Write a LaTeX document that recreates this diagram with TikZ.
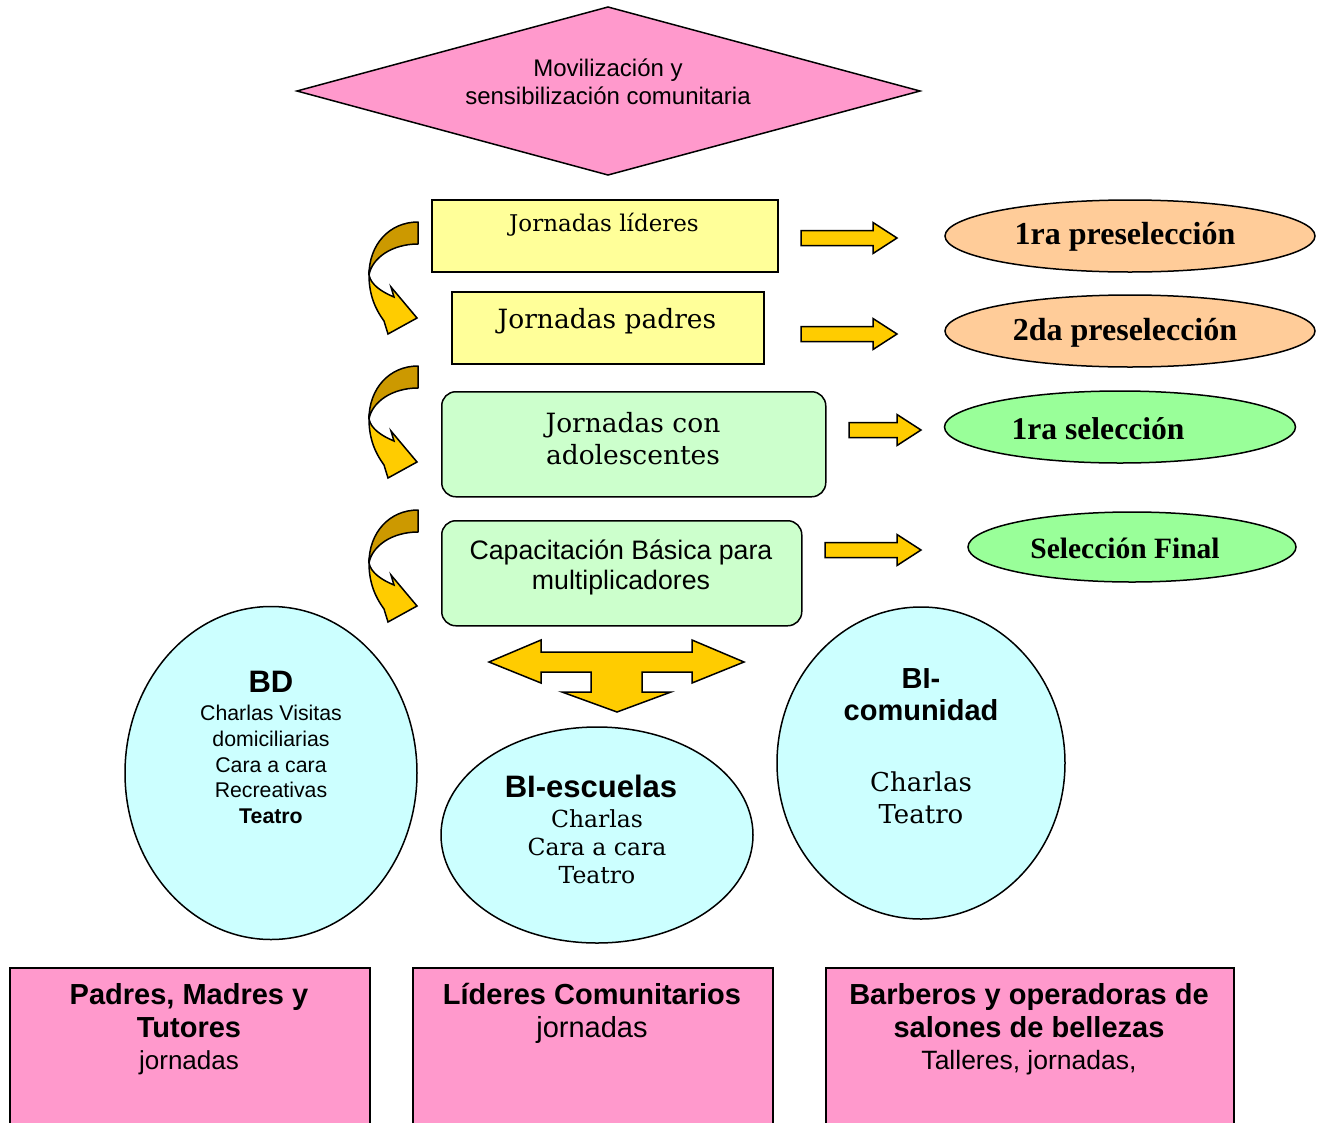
\documentclass[tikz,border=0pt]{standalone}
\usepackage{fontspec}
\setmainfont{Liberation Sans}
\newfontfamily\bookfont{DejaVu Serif}
\newfontfamily\timesfont{Liberation Serif}
\usetikzlibrary{shapes.geometric}

\definecolor{pinkfill}{HTML}{FF99CC}
\definecolor{yellowfill}{HTML}{FFFF99}
\definecolor{mintfill}{HTML}{CCFFCC}
\definecolor{peachfill}{HTML}{FFCC99}
\definecolor{greenfill}{HTML}{99FF99}
\definecolor{cyanfill}{HTML}{CCFFFF}
\definecolor{goldfill}{HTML}{FFCC00}
\definecolor{darkgold}{HTML}{CC9900}

\tikzset{
  outline/.style={draw=black, line width=1.5pt},
  blockarrow/.style={outline, fill=goldfill, line join=miter},
  txt/.style={inner sep=0pt, align=center, text=black},
  sanstxt/.style={txt, font=\fontsize{#1}{#1}\selectfont},
  serift/.style={txt, font=\bookfont\fontsize{#1}{#1}\selectfont},
  timest/.style={txt, font=\timesfont\bfseries\fontsize{#1}{#1}\selectfont},
  % curved block arrow, dark back face and light front face with head
  curvarrow/.pic={
    \path[outline, fill=darkgold, line join=round]
      (418,222) .. controls (389,222) and (369,245) .. (369,275)
      .. controls (372,258) and (392,244) .. (418,244) -- cycle;
    \path[outline, fill=goldfill, line join=miter]
      (369,275) .. controls (369,296) and (376,310) .. (384,321)
      -- (388,334) -- (417,318) -- (391,287) -- (394,297)
      .. controls (382,292) and (371,285) .. (369,275) -- cycle;
  }
}

% straight block arrow: start x, tip x, axis y
\newcommand\rightblock[3]{%
  \path[blockarrow] (#1,#3-7.5) -- (#2-24,#3-7.5) -- (#2-24,#3-15.5) -- (#2,#3)
    -- (#2-24,#3+15.5) -- (#2-24,#3+7.5) -- (#1,#3+7.5) -- cycle;}

\begin{document}
\begin{tikzpicture}[x=1pt, y=-1pt]
\useasboundingbox (0,0) rectangle (1325,1122);

% top diamond
\path[outline, fill=pinkfill, line join=miter]
  (297,91) -- (608,7) -- (920,91) -- (608,175) -- cycle;
\node[sanstxt=24, font=\fontsize{24}{28}\selectfont] (movil) at (608,82)
  {Movilización y\\sensibilización comunitaria};

% step boxes
\node[outline, line width=2pt, fill=yellowfill, minimum width=346pt, minimum height=72pt, anchor=north west] (lideres) at (431,199) {};
\node[serift=23] (lideresT) at (604,225) {Jornadas líderes};

\node[outline, line width=2pt, fill=yellowfill, minimum width=312pt, minimum height=72pt, anchor=north west] (padres) at (451,291) {};
\node[serift=26.5] (padresT) at (607,321) {Jornadas padres};

\node[outline, fill=mintfill, rounded corners=14pt, minimum width=384pt, minimum height=105pt, anchor=north west] (adol) at (441,391) {};
\node[serift=26.5, font=\bookfont\fontsize{26.5}{32}\selectfont] (adolT) at (633,439) {Jornadas con\\adolescentes};

\node[outline, fill=mintfill, rounded corners=14pt, minimum width=360pt, minimum height=105pt, anchor=north west] (capac) at (441,520) {};
\node[sanstxt=26.7, font=\fontsize{26.7}{30}\selectfont] (capacT) at (621,567) {Capacitación Básica para\\multiplicadores};

% curved arrows between steps
\pic at (0,0) {curvarrow};
\pic at (0,144) {curvarrow};
\pic at (0,288) {curvarrow};

% arrows to the selection stages
\rightblock{801}{897}{238}
\rightblock{801}{897}{334}
\rightblock{849}{921}{430}
\rightblock{825}{921}{550}

% selection ellipses
\node[outline, ellipse, fill=peachfill, minimum width=370pt, minimum height=72pt] (pre1) at (1130,236) {};
\node[timest=32] (pre1T) at (1125,237) {1ra preselección};
\node[outline, ellipse, fill=peachfill, minimum width=370pt, minimum height=72pt] (pre2) at (1130,331) {};
\node[timest=32] (pre2T) at (1125,333) {2da preselección};
\node[outline, ellipse, fill=greenfill, minimum width=351pt, minimum height=72pt] (sel1) at (1120,427) {};
\node[timest=31.6] (sel1T) at (1098,429) {1ra selección};
\node[outline, ellipse, fill=greenfill, minimum width=328pt, minimum height=70pt] (self) at (1132,547) {};
\node[timest=29.5] (selfT) at (1125,548) {Selección Final};

% three-way block arrow
\path[blockarrow]
  (489,662) -- (541,640) -- (541,652) -- (692,652) -- (692,640) -- (744,662)
  -- (692,683) -- (692,672) -- (642,672) -- (642,692) -- (671,692) -- (617,712)
  -- (562,692) -- (591,692) -- (591,672) -- (541,672) -- (541,683) -- cycle;

% strategy circles
\node[outline, ellipse, fill=cyanfill, minimum width=292pt, minimum height=333pt] (bd) at (271,773) {};
\node[txt, font=\bfseries\fontsize{31}{31}\selectfont] (bdT) at (271,682) {BD};
\node[txt, font=\fontsize{21.3}{25.75}\selectfont] (bdB) at (271,764.5)
  {Charlas Visitas\\domiciliarias\\Cara a cara\\Recreativas\\\textbf{Teatro}};

\node[outline, ellipse, fill=cyanfill, minimum width=312pt, minimum height=216pt] (esc) at (597,835) {};
\node[txt, font=\bfseries\fontsize{31}{31}\selectfont] (escT) at (591,786) {BI-escuelas};
\node[serift=23.5, font=\bookfont\fontsize{23.5}{28}\selectfont] (escB) at (597,847) {Charlas\\Cara a cara\\Teatro};

\node[outline, ellipse, fill=cyanfill, minimum width=288pt, minimum height=312pt] (com) at (921,763) {};
\node[txt, font=\bfseries\fontsize{29}{32}\selectfont] (comT) at (921,695) {BI-\\comunidad};
\node[serift=26, font=\bookfont\fontsize{26}{32}\selectfont] (comB) at (921,798) {Charlas\\Teatro};

% audience boxes along the bottom edge
\node[outline, fill=pinkfill, minimum width=360pt, minimum height=170pt, anchor=north west] (padresB) at (9,967) {};
\node[txt, font=\fontsize{26}{32.5}\selectfont] (padresBT) at (189,1029.5)
  {\textbf{\fontsize{29}{33}\selectfont Padres, Madres y}\\\textbf{\fontsize{29}{33}\selectfont Tutores}\\jornadas};

\node[outline, fill=pinkfill, minimum width=360pt, minimum height=170pt, anchor=north west] (lidB) at (412,967) {};
\node[txt, font=\fontsize{29}{33}\selectfont] (lidBT) at (592,1013.5)
  {\textbf{\fontsize{29}{33}\selectfont Líderes Comunitarios}\\jornadas};

\node[outline, fill=pinkfill, minimum width=408pt, minimum height=170pt, anchor=north west] (barB) at (825,967) {};
\node[txt, font=\fontsize{26.5}{32.5}\selectfont] (barBT) at (1029,1029.5)
  {\textbf{\fontsize{29}{33}\selectfont Barberos y operadoras de}\\\textbf{\fontsize{29}{33}\selectfont salones de bellezas}\\Talleres, jornadas,};
\end{tikzpicture}
\end{document}
